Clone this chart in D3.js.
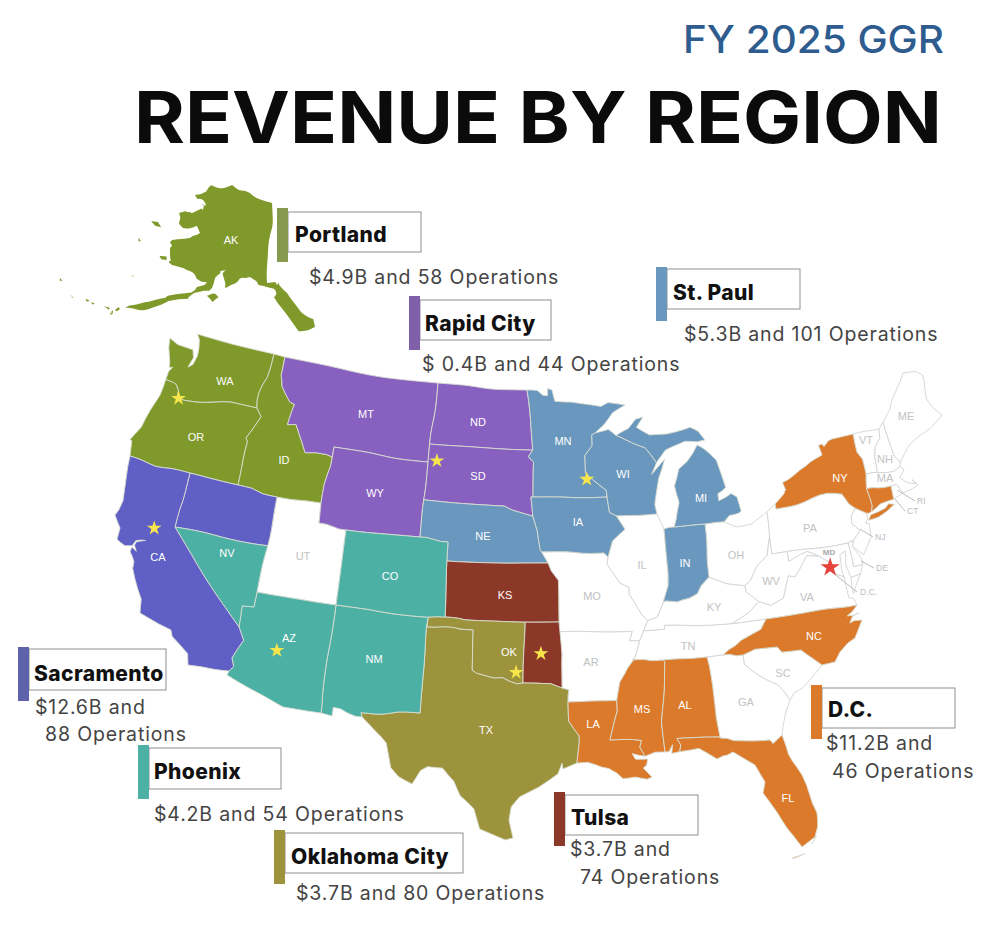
<!DOCTYPE html>
<html>
<head>
<meta charset="utf-8">
<style>
  body { margin: 0; background: #fff; }
  text { font-family: Inter, "Noto Sans", sans-serif; }
</style>
</head>
<body>
<svg id="chart" width="1000" height="930"></svg>
<script src="https://cdn.jsdelivr.net/npm/d3@7"></script>
<script>
// regions, in the order they show up on the slide
const regionNames = ['Portland', 'Rapid City', 'St. Paul', 'Sacramento', 'Phoenix', 'Oklahoma City', 'Tulsa', 'D.C.']
const revenueLabels = ['$4.9B', '$ 0.4B', '$5.3B', '$12.6B', '$4.2B', '$3.7B', '$3.7B', '$11.2B']
const operationCounts = [58, 44, 101, 88, 54, 80, 74, 46]
const mapColors = ['#80992b', '#8860c0', '#6a97bd', '#5f5fc6', '#4cb0a5', '#9c933c', '#8c3829', '#dc7a2c']
const barColors = ['#87994e', '#7f5fa8', '#6a97bd', '#5e62ab', '#4cb0a5', '#9c933c', '#8c3829', '#dc7a2c']

// state -> region name, anything missing stays white
const stateRegion = {
	AK: 'Portland', WA: 'Portland', OR: 'Portland', ID: 'Portland',
	MT: 'Rapid City', WY: 'Rapid City', ND: 'Rapid City', SD: 'Rapid City',
	MN: 'St. Paul', WI: 'St. Paul', MI: 'St. Paul', IA: 'St. Paul', NE: 'St. Paul', IN: 'St. Paul',
	CA: 'Sacramento', NVN: 'Sacramento',
	NVS: 'Phoenix', AZ: 'Phoenix', NM: 'Phoenix', CO: 'Phoenix',
	TX: 'Oklahoma City', OKW: 'Oklahoma City',
	KS: 'Tulsa', OKE: 'Tulsa',
	LA: 'D.C.', MS: 'D.C.', AL: 'D.C.', FL: 'D.C.', NC: 'D.C.', NY: 'D.C.', CT: 'D.C.'
}

// rough state outlines, lon/lat rings
const stateRings = {
	WA: [[[-117.03,49],[-122.76,49],[-122.5,48.75],[-122.35,48.3],[-122.3,47.9],[-122.45,47.4],[-122.75,47.2],[-122.55,47.75],[-122.75,48.14],[-123.2,48.15],[-124,48.17],[-124.72,48.38],[-124.6,47.9],[-124.2,47.2],[-124.1,46.9],[-123.85,46.95],[-124.05,46.7],[-124.05,46.27],[-123.45,46.25],[-123.15,46.18],[-122.85,45.95],[-122.75,45.65],[-122.2,45.58],[-121.2,45.65],[-120.6,45.74],[-119.6,45.92],[-119,46],[-116.92,46],[-117.04,46.4]]],
	OR: [[[-124.05,46.27],[-123.45,46.25],[-123.15,46.18],[-122.85,45.95],[-122.75,45.65],[-122.2,45.58],[-121.2,45.65],[-120.6,45.74],[-119.6,45.92],[-119,46],[-116.92,46],[-116.47,45.6],[-116.85,44.95],[-117.2,44.4],[-117.03,44.25],[-117.03,42],[-124.2,42],[-124.4,42.8],[-124.55,42.84],[-124.1,43.7],[-124.05,44.7],[-123.95,45.5]]],
	ID: [[[-117.03,49],[-116.05,49],[-116.05,48],[-115.7,47.45],[-114.7,46.7],[-114.35,46.65],[-114.5,45.55],[-113.95,45.7],[-113.45,45.05],[-113,44.45],[-112.3,44.55],[-111.5,44.55],[-111.05,44.47],[-111.05,42],[-117.03,42],[-117.03,44.25],[-117.2,44.4],[-116.85,44.95],[-116.47,45.6],[-116.92,46],[-117.04,46.4]]],
	MT: [[[-116.05,49],[-104.05,49],[-104.05,45],[-111.05,45],[-111.05,44.47],[-111.5,44.55],[-112.3,44.55],[-113,44.45],[-113.45,45.05],[-113.95,45.7],[-114.5,45.55],[-114.35,46.65],[-114.7,46.7],[-115.7,47.45],[-116.05,48]]],
	WY: [[[-111.05,45],[-104.05,45],[-104.05,41],[-111.05,41]]],
	ND: [[[-104.05,49],[-97.23,49],[-96.85,47.5],[-96.56,45.94],[-104.05,45.94]]],
	SD: [[[-104.05,45.94],[-96.56,45.94],[-96.85,45.6],[-96.45,45.3],[-96.45,43.5],[-96.6,43.5],[-96.45,42.5],[-97.9,42.8],[-98.5,43],[-104.05,43]]],
	NE: [[[-104.05,43],[-98.5,43],[-97.9,42.8],[-96.45,42.5],[-96.1,41.7],[-95.85,40.7],[-95.31,40],[-102.05,40],[-102.05,41],[-104.05,41]]],
	MN: [[[-97.23,49],[-95.15,49],[-95.15,49.38],[-94.8,49.3],[-94.6,48.7],[-93.4,48.6],[-92.4,48.3],[-91.4,48.07],[-90.8,48.2],[-89.5,48],[-90.5,47.65],[-92.05,46.75],[-92.3,46.66],[-92.3,46.1],[-92.85,45.6],[-92.75,44.75],[-91.25,43.85],[-91.22,43.5],[-96.45,43.5],[-96.45,45.3],[-96.85,45.6],[-96.56,45.94],[-96.85,47.5]]],
	IA: [[[-96.6,43.5],[-91.22,43.5],[-91.1,42.7],[-90.65,42.5],[-90.15,41.8],[-91.05,41.2],[-91.42,40.38],[-91.7,40.6],[-95.77,40.58],[-95.85,40.7],[-96.1,41.7],[-96.45,42.5]]],
	MO: [[[-95.77,40.58],[-91.7,40.6],[-91.42,40.38],[-91.5,40],[-90.7,39],[-90.15,38.75],[-90.2,38.4],[-89.5,37.3],[-89.13,36.98],[-89.4,36.5],[-89.7,36],[-90.37,36],[-90.15,36.5],[-94.62,36.5],[-94.62,39.1],[-95.1,39.6],[-95.31,40]]],
	KS: [[[-102.05,40],[-95.31,40],[-95.1,39.6],[-94.62,39.1],[-94.62,37],[-102.05,37]]],
	OKW: [[[-103,37],[-96.8,37],[-96.8,33.85],[-97.2,33.8],[-97.7,33.95],[-98.1,34.13],[-98.6,34.15],[-99.2,34.3],[-99.7,34.4],[-100,34.56],[-100,36.5],[-103,36.5]]],
	OKE: [[[-96.8,37],[-94.62,37],[-94.45,35.4],[-94.48,33.64],[-95.2,33.88],[-96,33.85],[-96.8,33.85]]],
	TX: [[[-103.04,36.5],[-100,36.5],[-100,34.56],[-99.7,34.4],[-99.2,34.3],[-98.6,34.15],[-98.1,34.13],[-97.7,33.95],[-97.2,33.8],[-96.8,33.85],[-96,33.85],[-95.2,33.88],[-94.48,33.64],[-94.04,33.55],[-94.04,33],[-94.04,31.99],[-93.55,31.2],[-93.75,30.4],[-93.85,29.75],[-94.7,29.45],[-94.75,29.75],[-95,29.2],[-96,28.55],[-96.9,28.1],[-97.3,27.6],[-97.4,26.9],[-97.15,25.96],[-97.6,25.85],[-98.2,26.07],[-99.1,26.4],[-99.5,27.5],[-100.3,28.3],[-100.7,29.1],[-101.4,29.77],[-102.3,29.88],[-102.7,29.7],[-103.15,28.98],[-104,29.3],[-104.5,29.65],[-104.9,30.55],[-106,31.4],[-106.53,31.78],[-106.62,32],[-103.06,32]]],
	NM: [[[-109.05,37],[-103,37],[-103.04,36.5],[-103.06,32],[-106.62,32],[-106.53,31.78],[-108.2,31.78],[-108.2,31.33],[-109.05,31.33]]],
	AZ: [[[-114.05,37],[-109.05,37],[-109.05,31.33],[-111.07,31.33],[-114.8,32.5],[-114.72,32.72],[-114.5,33],[-114.7,33.4],[-114.15,34.27],[-114.6,34.9],[-114.63,35.5],[-114.75,36.1],[-114.05,36.2]]],
	CO: [[[-109.05,41],[-102.05,41],[-102.05,37],[-109.05,37]]],
	UT: [[[-114.05,42],[-111.05,42],[-111.05,41],[-109.05,41],[-109.05,37],[-114.05,37]]],
	NVN: [[[-120,42],[-114.05,42],[-114.05,39.4],[-120,39]]],
	NVS: [[[-120,39],[-114.05,39.4],[-114.05,36.2],[-114.75,36.1],[-114.63,35.5],[-114.6,34.9]]],
	CA: [[[-124.2,42],[-120,42],[-120,39],[-114.6,34.9],[-114.15,34.27],[-114.7,33.4],[-114.5,33],[-114.72,32.72],[-117.12,32.53],[-117.3,33.1],[-118.4,33.75],[-118.5,34.03],[-119.2,34.15],[-120.5,34.45],[-120.65,35.15],[-121.9,36.6],[-122,36.95],[-122.5,37.5],[-122.5,37.78],[-122.1,37.5],[-122.35,37.85],[-122.3,38.03],[-121.7,38.05],[-122.35,38.12],[-122.5,37.85],[-123,38],[-123.75,39],[-123.8,39.8],[-124.4,40.4],[-124.1,41]]],
	AR: [[[-94.62,36.5],[-90.15,36.5],[-90.37,36],[-89.7,36],[-90.1,35.1],[-90.6,34.6],[-91.1,33.9],[-91.17,33],[-94.04,33],[-94.04,33.55],[-94.48,33.64],[-94.45,35.4]]],
	LA: [[[-94.04,33],[-91.17,33],[-91.1,32.5],[-91.6,31],[-89.73,31],[-89.85,30.65],[-89.55,30.2],[-90.3,30.3],[-90.1,30.05],[-89.4,30.05],[-89.4,29.75],[-89.6,29.6],[-89.1,29.1],[-89.4,29],[-90.1,29.15],[-90.9,29.05],[-91.3,29.3],[-91.8,29.5],[-92.3,29.55],[-93.2,29.77],[-93.85,29.75],[-93.75,30.4],[-93.55,31.2],[-94.04,31.99]]],
	MS: [[[-90.3,35],[-88.2,35],[-88.1,34.9],[-88.47,31.9],[-88.4,30.35],[-89,30.38],[-89.55,30.2],[-89.85,30.65],[-89.73,31],[-91.6,31],[-91.1,32.5],[-91.17,33],[-91.1,33.9],[-90.6,34.6],[-90.1,35.1]]],
	AL: [[[-88.2,35],[-85.6,35],[-85.1,32.5],[-85,31],[-87.6,31],[-87.4,30.65],[-87.5,30.3],[-88,30.25],[-87.9,30.7],[-88.15,30.35],[-88.4,30.35],[-88.47,31.9],[-88.1,34.9]]],
	TN: [[[-90.1,35.1],[-89.7,36],[-89.4,36.5],[-88.05,36.5],[-88.05,36.68],[-86,36.63],[-83.68,36.6],[-81.68,36.59],[-82.1,36.1],[-83.1,35.75],[-84.32,35],[-85.6,35],[-88.2,35],[-90.3,35]]],
	KY: [[[-89.4,36.5],[-89.13,36.98],[-88.5,37.1],[-88.05,37.8],[-87.9,37.9],[-87.1,37.8],[-86.3,38],[-85.7,38.3],[-85.4,38.7],[-84.8,39.1],[-84.3,38.9],[-83.7,38.65],[-82.6,38.4],[-82.6,38.1],[-81.97,37.54],[-82.7,37.05],[-83.68,36.6],[-86,36.63],[-88.05,36.68],[-88.05,36.5]]],
	IL: [[[-91.5,40],[-91.42,40.38],[-91.05,41.2],[-90.15,41.8],[-90.65,42.5],[-87.8,42.5],[-87.53,41.7],[-87.53,39.35],[-87.6,38.7],[-88.05,37.8],[-88.5,37.1],[-89.13,36.98],[-89.5,37.3],[-90.2,38.4],[-90.15,38.75],[-90.7,39]]],
	IN: [[[-87.53,41.7],[-87.2,41.76],[-86.8,41.76],[-84.8,41.7],[-84.8,39.1],[-85.4,38.7],[-85.7,38.3],[-86.3,38],[-87.1,37.8],[-87.9,37.9],[-88.05,37.8],[-87.6,38.7],[-87.53,39.35]]],
	OH: [[[-84.8,41.7],[-83.45,41.73],[-82.7,41.45],[-81.7,41.5],[-80.52,41.98],[-80.52,40.64],[-80.85,39.7],[-81.7,39.2],[-82.2,38.6],[-82.6,38.4],[-83.7,38.65],[-84.3,38.9],[-84.8,39.1]]],
	MI: [
		[[-86.8,41.76],[-84.8,41.7],[-83.45,41.73],[-83.1,42.2],[-82.5,42.6],[-82.42,43],[-82.6,43.85],[-83,44.07],[-83.4,43.9],[-83.9,43.65],[-83.9,44],[-83.3,44.35],[-83.4,45.05],[-84.1,45.5],[-84.75,45.78],[-85.1,45.4],[-85.6,45],[-86.2,44.7],[-86.5,43.9],[-86.25,43],[-86.6,42.1]],
		[[-90.4,46.55],[-89.2,46.85],[-88.4,47.38],[-87.8,47.47],[-88.4,46.95],[-87.5,46.5],[-86.5,46.5],[-85,46.75],[-84.4,46.5],[-83.9,46],[-84.7,45.95],[-85.6,46.05],[-86.4,45.85],[-86.9,45.7],[-87.6,45.1],[-88.1,45.85],[-89.1,46.15]]
	],
	WI: [[[-92.3,46.66],[-92.05,46.75],[-91,46.9],[-90.4,46.55],[-89.1,46.15],[-88.1,45.85],[-87.6,45.1],[-88,44.55],[-87.05,45.25],[-87.55,44.3],[-87.9,43],[-87.8,42.5],[-90.65,42.5],[-91.1,42.7],[-91.22,43.5],[-91.25,43.85],[-92.75,44.75],[-92.85,45.6],[-92.3,46.1]]],
	PA: [[[-80.52,41.98],[-79.76,42.27],[-79.76,42],[-75.35,42],[-75.05,41.6],[-74.7,41.36],[-75.1,41],[-75.2,40.65],[-74.75,40.2],[-75.4,39.8],[-75.79,39.72],[-80.52,39.72]]],
	NY: [
		[[-79.76,42.27],[-79.05,42.7],[-78.9,42.9],[-79.05,43.27],[-77.5,43.25],[-76.2,43.55],[-76.3,44.1],[-75,44.95],[-74.7,45],[-73.35,45],[-73.4,44],[-73.25,43.55],[-73.27,42.75],[-73.5,42.05],[-73.5,41.3],[-73.65,41],[-73.9,40.95],[-74.05,41],[-74.7,41.36],[-75.05,41.6],[-75.35,42],[-79.76,42]],
		[[-74,40.6],[-73.75,40.85],[-72.6,40.98],[-72.3,41.15],[-71.9,41.05],[-72.5,40.82],[-73.3,40.63]]
	],
	VT: [[[-73.35,45],[-71.5,45],[-71.6,44.5],[-72.05,44.1],[-72.35,43.5],[-72.46,42.73],[-73.27,42.75],[-73.25,43.55],[-73.4,44]]],
	NH: [[[-71.5,45],[-71.08,45.3],[-70.98,43.4],[-70.7,43.07],[-70.82,42.87],[-71.3,42.7],[-72.46,42.73],[-72.35,43.5],[-72.05,44.1],[-71.6,44.5]]],
	ME: [[[-71.08,45.3],[-70.4,45.8],[-70,46.7],[-69.23,47.46],[-68.3,47.36],[-67.8,47.07],[-67.78,45.9],[-67.45,45.3],[-67,44.85],[-68,44.4],[-69,44.1],[-69.8,43.75],[-70.7,43.07],[-70.98,43.4]]],
	MA: [[[-73.5,42.05],[-73.27,42.75],[-71.3,42.7],[-70.82,42.87],[-70.6,42.65],[-71.05,42.3],[-70.6,41.95],[-70.05,41.8],[-70.25,42.05],[-69.95,41.7],[-70.65,41.55],[-71.12,41.5],[-71.38,42.02],[-71.8,42.02]]],
	RI: [[[-71.8,42.02],[-71.38,42.02],[-71.12,41.5],[-71.85,41.32]]],
	CT: [[[-73.5,42.05],[-71.8,42.02],[-71.85,41.32],[-72.9,41.25],[-73.65,41],[-73.5,41.3]]],
	NJ: [[[-74.7,41.36],[-74.05,41],[-74,40.7],[-74.25,40.5],[-74,40.45],[-74.1,39.75],[-74.9,38.95],[-75.55,39.5],[-75.4,39.8],[-74.75,40.2],[-75.2,40.65],[-75.1,41]]],
	DE: [[[-75.79,39.72],[-75.4,39.8],[-75.55,39.5],[-75.1,38.8],[-75.05,38.45],[-75.7,38.46]]],
	MD: [[[-79.48,39.72],[-75.79,39.72],[-75.7,38.46],[-75.05,38.45],[-75.25,38.03],[-75.9,37.95],[-76.2,38.6],[-76.1,39.35],[-76.5,39.2],[-76.5,38.4],[-76.35,38.05],[-77,38.3],[-77.25,38.5],[-77.04,38.8],[-77.5,39.1],[-77.75,39.3],[-78.3,39.6],[-79.48,39.2]]],
	VA: [
		[[-83.68,36.6],[-81.68,36.59],[-75.87,36.55],[-76,36.92],[-76.3,37],[-76.3,37.5],[-76.35,38.05],[-77,38.3],[-77.25,38.5],[-77.04,38.8],[-77.5,39.1],[-77.75,39.3],[-78.35,39.4],[-78.9,38.75],[-79.3,38.4],[-79.7,38.5],[-80.3,37.5],[-81.25,37.25],[-81.97,37.54],[-82.7,37.05]],
		[[-75.25,38.03],[-75.9,37.95],[-75.95,37.15],[-75.6,37.6]]
	],
	WV: [[[-80.52,40.64],[-80.52,39.72],[-79.48,39.72],[-79.48,39.2],[-78.3,39.6],[-77.75,39.3],[-78.35,39.4],[-78.9,38.75],[-79.3,38.4],[-79.7,38.5],[-80.3,37.5],[-81.25,37.25],[-81.97,37.54],[-82.6,38.1],[-82.6,38.4],[-82.2,38.6],[-81.7,39.2],[-80.85,39.7]]],
	NC: [[[-81.68,36.59],[-75.87,36.55],[-76.6,36],[-75.75,35.9],[-76.5,35.4],[-75.5,35.25],[-76.5,34.65],[-77.5,34.3],[-77.95,33.87],[-78.55,33.85],[-79.67,34.8],[-80.8,34.82],[-81.05,35.1],[-82.3,35.2],[-83.1,35],[-84.32,35],[-83.1,35.75],[-82.1,36.1]]],
	SC: [[[-83.1,35],[-82.3,35.2],[-81.05,35.1],[-80.8,34.82],[-79.67,34.8],[-78.55,33.85],[-79.2,33.2],[-80.5,32.4],[-80.87,32.03],[-81.4,33],[-82,33.5],[-83.1,34.5]]],
	GA: [[[-85.6,35],[-84.32,35],[-83.1,35],[-83.1,34.5],[-82,33.5],[-81.4,33],[-80.87,32.03],[-81.2,31.5],[-81.45,30.72],[-82.05,30.36],[-82.2,30.57],[-84.87,30.7],[-85,31],[-85.1,32.5]]],
	FL: [
		[[-87.6,31],[-85,31],[-84.87,30.7],[-82.2,30.57],[-82.05,30.36],[-81.45,30.72],[-81.2,29.7],[-80.55,28.4],[-80.05,26.9],[-80.15,25.75],[-80.4,25.2],[-81.1,25.15],[-81.8,26.1],[-82.2,26.9],[-82.75,27.8],[-82.65,28.7],[-83.4,29.5],[-84,30.1],[-85.3,29.68],[-86.3,30.38],[-87.5,30.3],[-87.4,30.65]],
		[[-80.5,25.02],[-80.3,25.25],[-80.62,24.93]],
		[[-81.75,24.55],[-81,24.75],[-81.7,24.62]]
	]
}

const alaskaRings = [
	[[-141,69.65],[-141,60.3],[-139.1,60.35],[-137.5,58.9],[-135.5,59.8],[-134,58.8],[-133.4,58.4],[-131.8,56.6],[-130,56],[-130,55.1],[-131.5,54.9],[-133.3,54.9],[-134.5,56.2],[-135.5,57.2],[-136.5,58.1],[-137.8,58.4],[-139.5,59.6],[-142,60],[-144.5,60.2],[-146.5,60.8],[-148,60.6],[-149.5,59.8],[-151.8,59.2],[-151.3,60.6],[-150,61.2],[-151.5,61],[-153,60],[-154,59],[-156,57.5],[-158.5,56],[-161,55.2],[-163.5,54.7],[-162,55.8],[-160,56.2],[-158,57.6],[-157.3,58.7],[-158.8,58.5],[-160,58.8],[-162,59],[-162,60],[-164.5,60.5],[-165.3,61.3],[-166,62],[-164.8,63],[-162.5,63.5],[-161,64.4],[-161,64.8],[-163,64.6],[-165,64.5],[-166.5,64.8],[-168.1,65.6],[-166,66.2],[-164,66.6],[-162,66.1],[-161,66.6],[-163.7,67.1],[-165.5,68],[-166.7,68.4],[-163.5,69],[-162.5,70],[-160,70.6],[-156.6,71.35],[-154,70.9],[-152,70.85],[-148,70.4],[-144,70]],
	[[-154.6,57.5],[-153,58],[-152.2,57.6],[-153.3,56.9]],
	[[-171.7,63.5],[-170,63.7],[-168.8,63.3],[-170.3,63.2]],
	[[-167.4,60.2],[-165.8,60.4],[-165.6,60],[-166.8,59.9]],
	[[-173.2,60.7],[-172.4,60.4],[-172.9,60.3]],
	[[-170.4,57.25],[-170,57.2],[-170.2,57.1]],
	[[-165.5,54.1],[-164.8,54.6],[-164.4,54.4],[-165,54.05]],
	[[-167.8,53.3],[-166.2,53.95],[-166.2,53.55],[-167.5,53.1]],
	[[-169.2,52.95],[-168,53.55],[-168.1,53.3],[-169,52.8]],
	[[-170.2,52.8],[-169.7,52.95],[-169.8,52.7]],
	[[-174.5,52.15],[-173.2,52.3],[-173.3,52.05]],
	[[-176.9,51.9],[-176.2,51.95],[-176.4,51.7]],
	[[-178.1,51.95],[-177.2,51.95],[-177.6,51.7]],
	[[179.2,51.45],[179.8,51.5],[179.5,51.35]],
	[[177.4,52.1],[178,51.75],[177.3,51.8]],
	[[172.7,53],[173.4,52.9],[172.9,52.75]]
]

// the slide's base map isn't a clean albers, these pull it into shape: lon, lat, x, y
const lowerTies = [
	[-124.72,48.38,170,338],[-117.03,49,274,354],[-116.05,49,285,357],[-116.92,46,257,408],[-117.03,42,238,485],
	[-124.2,42,130,456],[-120,42,190,473],[-114.05,42,277,497],[-111.05,42,321,503],[-111.05,45,334,447],
	[-111.05,41,319,523],[-109.05,41,346,530],[-114.05,37,257,592],[-109.05,37,336,605],[-120,39,175,527],
	[-124.4,40.4,115,515],[-114.6,34.9,239,627],[-117.12,32.53,188,665],[-114.8,32.5,227,675],[-111.07,31.33,283,707],
	[-109.05,31.33,321,713],[-108.2,31.33,332,716],[-103.06,32,420,713],[-102.05,37,445,617],[-102.05,41,448,542],
	[-120.5,34.45,140,613],[-104.05,45,428,462],[-104.05,41,420,537],[-104.05,49,438,383],
	[-95.31,40,548,563],[-94.62,37,559,622],[-94.48,33.64,562,688],[-94.04,33,568,702],[-93.85,29.75,577,763],
	[-97.15,25.96,513,838],[-103.15,28.98,412,784],[-106.53,31.78,362,717],[-100,36.5,473,630],[-100,34.56,472,670],
	[-103,36.5,427,627],[-96.8,33.85,523,683],
	[-89.1,29.1,652,777],[-91.6,31,610,740],[-88.4,30.35,665,752],[-90.3,35,632,660],[-88.2,35,663,660],
	[-97.23,49,527,390],[-94.8,49.3,552,390],[-89.5,48,625,405],[-92.05,46.75,595,433],[-96.45,43.5,533,497],
	[-91.22,43.5,607,497],[-91.42,40.38,608,557],[-87.8,42.5,657,514],[-87.53,41.7,664,529],[-84.8,41.7,705,524],
	[-88.05,37.8,663,603],[-84.8,39.1,709,577],[-82.6,43.85,737,497],[-84.75,45.78,697,445],[-83.9,46,705,440],[-87.8,47.47,643,417],
	[-80.52,41.98,767,512],[-80.52,39.72,772,554],[-79.76,42,776,509],[-76.2,43.55,822,455],[-74.7,45,832,439],
	[-73.35,45,853,434],[-74.05,41,866,513],[-73.27,42.75,866,474],[-71.8,42.02,891,486],[-69.95,41.7,918,485],
	[-69.23,47.46,903,373],[-71.08,45.3,883,422],[-67,44.85,942,415],[-75.79,39.72,848,543],[-75.87,36.55,857,605],
	[-81.1,25.15,802,847],[-80.4,25.2,815,837],[-80.05,26.9,817,813],[-80.55,28.4,802,775],[-81.45,30.72,782,735],
	[-82.2,30.57,770,740],[-84.87,30.7,720,738],[-85.3,29.68,717,759],[-84,30.1,733,752],[-83.4,29.5,755,765],
	[-82.65,28.7,765,782],[-82.75,27.8,763,793],[-81.8,26.1,787,828],[-80.87,32.03,790,700],[-79.2,33.2,808,682],
	[-78.55,33.85,822,665],[-77.95,33.87,835,662],[-76.5,34.65,855,638],[-75.5,35.25,862,620],[-84.32,35,723,655],
	[-85.6,35,707,657],[-85,31,720,737],[-83.1,35,743,655],[-81.68,36.59,766,619]
]
const alaskaTies = [
	[-156.6,71.35,232,185],[-141,69.65,272,203],[-141,60.3,267,283],[-130,55.1,315,327],[-133.4,58.4,287,293],
	[-166.7,68.4,195,195],[-163.7,67.1,205,203],[-161,66.6,204,205],[-162,66.1,203,210],[-164,66.6,190,212],
	[-168.1,65.6,179,213],[-165,64.5,183,228],[-161,64.8,197,226],[-161,64.4,200,233],[-162.5,63.5,190,238],
	[-164.8,63,172,240],[-166,62,170,248],[-165.3,61.3,170,256],[-162,60,172,265],[-162,59,183,268],[-160,58.8,192,272],
	[-157.3,58.7,207,282],[-158,57.6,195,290],[-160,56.2,165,298],[-163.5,54.7,125,308],[-161,55.2,145,310],
	[-158.5,56,165,303],[-156,57.5,190,296],[-154,59,212,288],[-153,60,215,278],[-150,61.2,226,270],[-151.8,59.2,225,288],
	[-149.5,59.8,236,283],[-146.5,60.8,250,277],[172.7,53,60,278],[-176.5,51.9,93,303],[-170,63.7,158,222],
	[-166.5,60.1,163,258],[-154,57.4,210,297],[-172.7,60.5,140,240]
]

// label text and where it sits on the slide
const stateLabels = [
	['AK',231,240],['WA',225,381],['OR',196,437],['ID',284,460],['MT',366,414],['WY',375,493],['ND',478,422],['SD',478,476],
	['NE',483,536],['MN',563,441],['WI',623,474],['MI',701,498],['IA',578,522],['IN',685,563],['CA',158,557],['NV',227,553],
	['AZ',289,638],['NM',374,659],['CO',390,576],['UT',303,556],['KS',505,595],['OK',509,652],['TX',486,730],['LA',593,724],
	['MS',642,709],['AL',685,705],['FL',788,798],['GA',746,702],['SC',783,673],['NC',814,636],['TN',688,646],['KY',714,607],
	['VA',807,597],['WV',771,581],['OH',736,555],['PA',810,528],['NY',840,478],['IL',642,565],['MO',592,596],['AR',591,662],
	['ME',906,416],['VT',866,440],['NH',885,459],['MA',885,478]
]
const whiteStates = ['UT','MO','AR','TN','KY','IL','OH','PA','WV','VA','GA','SC','ME','VT','NH','MA']
// small states hang off a leader line: code, line start, line end, label x/y
const leaderLabels = [
	['RI',897,490,915,501,917,501],['CT',895,499,905,511,907,511],['NJ',860,529,873,537,875,537],
	['DE',861,561,874,568,876,568],['D.C.',832,572,857,592,860,592]
]

const hubCities = [
	['Portland',-122.6,45.6],['Rapid City',-103.4,45.1],['St. Paul',-92.65,44.45],['Sacramento',-121.35,38.7],
	['Phoenix',-112.05,34.15],['Oklahoma City',-97.25,34.4],['Tulsa',-95.75,35.4]
]
const hqCity = ['D.C.',-77.2,38.65]

// callout boxes, same order as regionNames
const calloutLayout = [
	{bar:[277,208], box:[288,212,133,40], nameX:295, nameY:242, sub:[[309,284]], one:true},
	{bar:[409,296], box:[420,300,131,40], nameX:425, nameY:331, sub:[[422,371]], one:true},
	{bar:[656,267], box:[667,269,133,40], nameX:673, nameY:300, sub:[[684,341]], one:true},
	{bar:[18,647], box:[29,649,137,41], nameX:34, nameY:681, sub:[[35,714],[45,741]]},
	{bar:[138,745], box:[149,748,132,41], nameX:154, nameY:779, sub:[[154,821]], one:true},
	{bar:[274,830], box:[285,833,178,40], nameX:291, nameY:864, sub:[[296,900]], one:true},
	{bar:[554,792], box:[565,795,133,40], nameX:571, nameY:825, sub:[[570,856],[580,884]]},
	{bar:[811,685], box:[822,688,133,40], nameX:828, nameY:717, sub:[[826,750],[832,778]]}
]

const svg = d3.select('#chart')

// inverse distance nudge: each tie pulls its neighbourhood onto the slide's position
function makeWarp(proj, ties) {
	let pulls = ties.map(t => {
		let p = proj([t[0], t[1]])
		return [p[0], p[1], t[2] - p[0], t[3] - p[1]]
	})
	return function(x, y) {
		let total = 0, dx = 0, dy = 0
		for (let t of pulls) {
			let r2 = (x - t[0]) * (x - t[0]) + (y - t[1]) * (y - t[1])
			if (r2 < 0.01) { return [x + t[2], y + t[3]] }
			let w = 1 / (r2 * r2)
			total += w
			dx += w * t[2]
			dy += w * t[3]
		}
		return [x + dx / total, y + dy / total]
	}
}

function warpedPath(proj, warp) {
	let transform = d3.geoTransform({
		point(x, y) {
			let p = warp(x, y)
			this.stream.point(p[0], p[1])
		}
	})
	return d3.geoPath({stream: s => proj.stream(transform.stream(s))})
}

const projection = d3.geoAlbers().scale(1095).translate([528, 590])
const akProjection = d3.geoConicEqualArea()
	.parallels([55, 65]).rotate([144.5, 0]).center([0, 64])
	.scale(510).translate([254, 243])

const warp = makeWarp(projection, lowerTies)
const akWarp = makeWarp(akProjection, alaskaTies)
const path = warpedPath(projection, warp)
const akPath = warpedPath(akProjection, akWarp)

function place(lon, lat) {
	let p = projection([lon, lat])
	return warp(p[0], p[1])
}

// long straight runs need extra vertices or the conic curve and the nudge are lost
function densify(ring) {
	let out = []
	ring.forEach((p, i) => {
		let q = ring[(i + 1) % ring.length]
		out.push(p)
		let span = Math.max(Math.abs(p[0] - q[0]), Math.abs(p[1] - q[1]))
		if (span > 0.5 && span < 100) {
			let n = Math.ceil(span * 2)
			for (let k = 1; k < n; k++) {
				out.push([p[0] + (q[0] - p[0]) * k / n, p[1] + (q[1] - p[1]) * k / n])
			}
		}
	})
	return out
}

function toFeature(code, rings) {
	let coords = rings.map(r => {
		let c = densify(r)
		c.push(c[0])
		// d3 wants clockwise rings, flip anything that came out as the whole globe
		if (d3.geoArea({type: 'Polygon', coordinates: [c]}) > 2 * Math.PI) { c.reverse() }
		return [c]
	})
	return {type: 'Feature', id: code, geometry: {type: 'MultiPolygon', coordinates: coords}}
}

function fillOf(code) {
	let i = regionNames.indexOf(stateRegion[code])
	return i < 0 ? '#fff' : mapColors[i]
}

const features = Object.keys(stateRings).map(code => toFeature(code, stateRings[code]))
features.sort((a, b) => (stateRegion[a.id] ? 1 : 0) - (stateRegion[b.id] ? 1 : 0))

// *** map ***
const map = svg.append('g')
map.selectAll('path.state')
	.data(features)
	.enter().append('path')
	.attr('class', 'state')
	.attr('d', path)
	.attr('fill', d => fillOf(d.id))
	.attr('stroke', d => stateRegion[d.id] ? '#d8dcd0' : '#d4d4d4')
	.attr('stroke-width', 0.9)
	.attr('stroke-linejoin', 'round')

map.append('path')
	.datum(toFeature('AK', alaskaRings))
	.attr('d', akPath)
	.attr('fill', fillOf('AK'))

// *** state labels ***
map.selectAll('text.state')
	.data(stateLabels)
	.enter().append('text')
	.attr('class', 'state')
	.attr('x', d => d[1])
	.attr('y', d => d[2])
	.attr('text-anchor', 'middle')
	.attr('dy', '0.35em')
	.style('font-family', '"Liberation Sans", sans-serif')
	.style('font-size', '11px')
	.attr('fill', d => whiteStates.includes(d[0]) ? '#c2c2c2' : '#fff')
	.text(d => d[0])

map.append('text')
	.attr('x', 829)
	.attr('y', 555)
	.attr('text-anchor', 'middle')
	.style('font-family', '"Liberation Sans", sans-serif')
	.style('font-size', '8px')
	.style('font-weight', 700)
	.attr('fill', '#a8a8a8')
	.text('MD')

const leaders = map.selectAll('g.leader')
	.data(leaderLabels)
	.enter().append('g')
	.attr('class', 'leader')
leaders.append('line')
	.attr('x1', d => d[1])
	.attr('y1', d => d[2])
	.attr('x2', d => d[3])
	.attr('y2', d => d[4])
	.attr('stroke', '#a9a9a9')
	.attr('stroke-width', 0.8)
leaders.append('text')
	.attr('x', d => d[5])
	.attr('y', d => d[6])
	.attr('dy', '0.35em')
	.style('font-family', '"Liberation Sans", sans-serif')
	.style('font-size', '8.5px')
	.attr('fill', '#bdbdbd')
	.text(d => d[0])

// *** stars ***
const star = d3.symbol().type(d3.symbolStar)
map.selectAll('path.hub')
	.data(hubCities)
	.enter().append('path')
	.attr('class', 'hub')
	.attr('d', star.size(68)())
	.attr('fill', '#f6e64b')
	.attr('transform', d => `translate(${place(d[1], d[2])})`)

map.append('path')
	.attr('d', star.size(115)())
	.attr('fill', '#e8423c')
	.attr('transform', `translate(${place(hqCity[1], hqCity[2])})`)

// *** callouts ***
const callouts = svg.selectAll('g.callout')
	.data(regionNames)
	.enter().append('g')
	.attr('class', 'callout')

callouts.append('rect')
	.attr('x', (d, i) => calloutLayout[i].box[0])
	.attr('y', (d, i) => calloutLayout[i].box[1])
	.attr('width', (d, i) => calloutLayout[i].box[2])
	.attr('height', (d, i) => calloutLayout[i].box[3])
	.attr('fill', '#fff')
	.attr('stroke', '#8f8f8f')
	.attr('stroke-width', 1)

callouts.append('rect')
	.attr('x', (d, i) => calloutLayout[i].bar[0])
	.attr('y', (d, i) => calloutLayout[i].bar[1])
	.attr('width', 11)
	.attr('height', 54)
	.attr('fill', (d, i) => barColors[i])

callouts.append('text')
	.attr('x', (d, i) => calloutLayout[i].nameX)
	.attr('y', (d, i) => calloutLayout[i].nameY)
	.style('font-size', '21px')
	.style('font-weight', 800)
	.style('letter-spacing', '0.4px')
	.attr('fill', '#111')
	.text(d => d)

callouts.each(function(d, i) {
	let layout = calloutLayout[i]
	let lines = layout.one
		? [`${revenueLabels[i]} and ${operationCounts[i]} Operations`]
		: [`${revenueLabels[i]} and`, `${operationCounts[i]} Operations`]
	lines.forEach((line, k) => {
		d3.select(this).append('text')
			.attr('x', layout.sub[k][0])
			.attr('y', layout.sub[k][1])
			.style('font-size', '19.5px')
			.style('font-weight', 400)
			.style('letter-spacing', '0.85px')
			.attr('fill', '#444')
			.text(line)
	})
})

// *** title ***
svg.append('text')
	.attr('x', 683)
	.attr('y', 53)
	.attr('textLength', 261)
	.attr('lengthAdjust', 'spacingAndGlyphs')
	.style('font-size', '38px')
	.style('font-weight', 500)
	.attr('fill', '#2f5c8f')
	.text('FY 2025 GGR')

svg.append('text')
	.attr('x', 134)
	.attr('y', 143)
	.attr('textLength', 808)
	.attr('lengthAdjust', 'spacingAndGlyphs')
	.style('font-size', '72px')
	.style('font-weight', 700)
	.attr('fill', '#0b0b0b')
	.text('REVENUE BY REGION')
</script>
</body>
</html>
